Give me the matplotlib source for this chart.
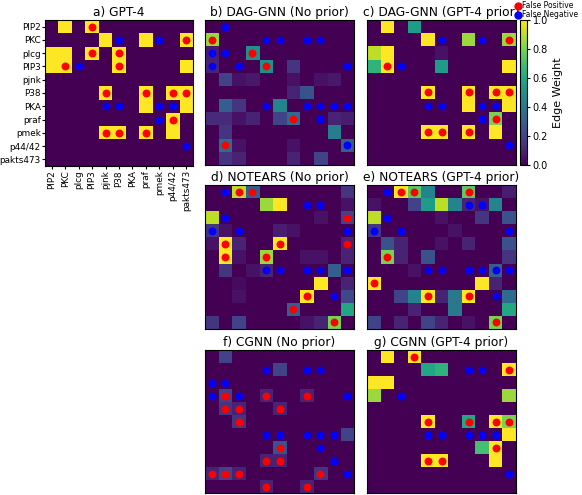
import matplotlib
matplotlib.use("Agg")
import matplotlib.pyplot as plt
from matplotlib.lines import Line2D
import numpy as np

# node names (Sachs protein network)
nodes = ['PIP2', 'PKC', 'plcg', 'PIP3', 'pjnk', 'P38', 'PKA', 'praf', 'pmek', 'p44/42', 'pakts473']

# edge weight matrices
gpt4 = [
    [0, 1, 0, 1, 0, 0, 0, 0, 0, 0, 0],
    [0, 0, 0, 0, 1, 0, 0, 1, 0, 0, 1],
    [1, 1, 0, 1, 0, 1, 0, 0, 0, 0, 0],
    [1, 1, 0, 0, 0, 1, 0, 0, 0, 0, 1],
    [0, 0, 0, 0, 0, 0, 0, 0, 0, 0, 0],
    [0, 0, 0, 0, 1, 0, 0, 1, 0, 1, 1],
    [0, 0, 0, 0, 0, 0, 0, 1, 0, 0, 1],
    [0, 0, 0, 0, 0, 0, 0, 0, 0, 1, 0],
    [0, 0, 0, 0, 1, 1, 0, 1, 0, 1, 0],
    [0, 0, 0, 0, 0, 0, 0, 0, 0, 0, 0],
    [0, 0, 0, 0, 0, 0, 0, 0, 0, 0, 0],
]
daggnn_noprior = [
    [0, 0, 0, 0, 0, 0, 0, 0, 0, 0, 0],
    [0.85, 0, 0, 0, 0, 0, 0, 0, 0, 0, 0],
    [0.08, 0, 0, 0.5, 0, 0, 0, 0, 0, 0, 0],
    [0.1, 0, 0, 0, 0.5, 0, 0.15, 0, 0, 0, 0],
    [0, 0.2, 0.05, 0.07, 0, 0, 0.05, 0, 0.05, 0.07, 0],
    [0, 0, 0, 0, 0, 0, 0.1, 0.25, 0, 0, 0],
    [0, 0.3, 0.15, 0, 0, 0.45, 0, 0, 0, 0, 0],
    [0.12, 0.12, 0.05, 0.1, 0, 0.2, 0.35, 0, 0, 0.1, 0.08],
    [0, 0.15, 0, 0, 0, 0, 0, 0, 0, 0.42, 0],
    [0, 0.35, 0.05, 0, 0, 0, 0.05, 0, 0, 0, 0.3],
    [0, 0.15, 0.1, 0, 0, 0, 0.1, 0, 0.2, 0, 0],
]
daggnn_gpt4 = [
    [0, 1, 0, 0.55, 0, 0, 0, 0, 0, 0, 0],
    [0, 0, 0, 0, 1, 0, 0, 0.85, 0, 0, 0.85],
    [0.9, 1, 0, 0, 0, 0.05, 0, 0, 0, 0, 0],
    [0.65, 1, 0, 0, 0, 0.55, 0, 0, 0, 0, 1],
    [0, 0, 0, 0, 0, 0, 0, 0, 0, 0, 0],
    [0, 0, 0, 0, 1, 0, 0, 1, 0, 1, 1],
    [0, 0, 0, 0, 0, 0, 0, 1, 0, 0, 1],
    [0, 0, 0, 0, 0, 0, 0, 0, 0, 0.8, 0],
    [0, 0, 0, 0, 1, 1, 0, 1, 0, 1, 0],
    [0, 0, 0, 0, 0, 0, 0, 0, 0, 0, 0],
    [0, 0, 0, 0, 0, 0, 0, 0, 0, 0, 0],
]
notears_noprior = [
    [0, 0, 0.9, 0.3, 0, 0, 0, 0, 0, 0, 0.15],
    [0, 0, 0, 0, 0.85, 1, 0, 0, 0, 0, 0.05],
    [0.9, 0, 0, 0, 0, 0, 0, 0, 0.05, 0, 0.2],
    [0.15, 0.05, 0, 0, 0, 0.08, 0.05, 0, 0, 0, 0],
    [0.05, 1, 0.1, 0, 0, 1, 0, 0, 0, 0, 0.1],
    [0, 1, 0.05, 0, 0.85, 0, 0, 0.05, 0.05, 0, 0.1],
    [0, 0.15, 0, 0.05, 0.1, 0, 0, 0, 0, 0.3, 0],
    [0, 0, 0.03, 0, 0, 0, 0, 0, 1, 0, 0.1],
    [0, 0, 0.05, 0, 0, 0, 0, 1, 0, 0, 0.22],
    [0, 0, 0, 0, 0, 0, 0.3, 0, 0, 0, 0.6],
    [0.15, 0, 0.2, 0, 0, 0, 0, 0.05, 0.1, 0.8, 0],
]
notears_gpt4 = [
    [0, 0, 1, 0.75, 0.45, 0, 0, 0.75, 0, 0, 0.08],
    [0.05, 0, 0, 0.2, 0.55, 0.9, 0.45, 0.1, 0.05, 0.45, 0],
    [0.9, 0, 0, 0, 0, 0.05, 0, 0, 0.15, 0, 0.25],
    [0.15, 0, 0, 0, 0, 0, 0.05, 0, 0, 0, 0],
    [0, 0.25, 0.1, 0, 0, 0.05, 0, 0.1, 0, 0, 0.25],
    [0, 0.8, 0.1, 0, 0.25, 0, 0, 0, 0, 0, 0.15],
    [0, 0, 0, 0.05, 0, 0, 0, 0, 0, 0.3, 0],
    [1, 0, 0, 0, 0, 0, 0, 0, 1, 0.1, 0],
    [0, 0, 0.2, 0.45, 1, 0.1, 0.4, 1, 0, 0, 0.35],
    [0, 0, 0, 0.1, 0, 0, 0.4, 0, 0, 0, 0.6],
    [0.2, 0, 0.1, 0, 0.2, 0.1, 0, 0.05, 0, 0.8, 0],
]
cgnn_noprior = [
    [0, 0.2, 0, 0, 0, 0, 0, 0, 0, 0, 0],
    [0, 0, 0, 0, 0, 0.2, 0, 0, 0, 0, 0],
    [0, 0, 0, 0, 0, 0, 0, 0, 0, 0, 0],
    [0, 0.2, 0, 0, 0.1, 0, 0, 0.1, 0, 0, 0],
    [0, 0.15, 0.1, 0, 0, 0.1, 0, 0, 0, 0, 0],
    [0, 0, 0.15, 0, 0, 0, 0, 0, 0, 0, 0],
    [0, 0, 0, 0, 0, 0, 0, 0, 0, 0, 0.2],
    [0, 0, 0, 0, 0, 0.25, 0, 0, 0, 0, 0],
    [0, 0, 0, 0, 0.1, 0.1, 0, 0, 0, 0, 0],
    [0.1, 0.2, 0.1, 0, 0, 0, 0, 0, 0.15, 0, 0],
    [0, 0, 0, 0, 0.1, 0, 0, 0.1, 0, 0, 0],
]
cgnn_gpt4 = [
    [0, 1, 0, 1, 0, 0, 0, 0, 0, 0, 0],
    [0, 0, 0, 0, 0.6, 0.65, 0, 0, 0, 0, 1],
    [1, 1, 0, 0, 0, 0, 0, 0, 0, 0, 0],
    [0.85, 0, 0, 0, 0, 0, 0, 0, 0, 0, 0.85],
    [0, 0, 0, 0, 0, 0, 0, 0, 0, 0, 0],
    [0, 0, 0, 0, 1, 0, 0, 0.6, 0, 1, 0.8],
    [0, 0, 0, 0, 0, 0, 0, 0, 0, 0, 1],
    [0, 0, 0, 0, 0, 0, 0, 0, 0.7, 1, 0],
    [0, 0, 0, 0, 1, 1, 0, 0, 0, 1, 0],
    [0, 0, 0, 0, 0, 0, 0, 0, 0, 0, 0],
    [0, 0, 0, 0, 0, 0, 0, 0, 0, 0, 0],
]

# (row, col) of false positives / false negatives
fp_gpt4 = [(0, 3), (1, 10), (2, 3), (2, 5), (3, 1), (3, 5), (5, 4), (5, 7), (5, 9), (5, 10), (7, 9), (8, 4), (8, 5), (8, 7)]
fn_gpt4 = [(1, 5), (1, 8), (3, 2), (6, 4), (6, 5), (6, 8), (6, 9), (7, 8), (9, 10)]
fp_daggnn_noprior = [(1, 0), (2, 3), (3, 4), (7, 6), (9, 1)]
fn_daggnn_noprior = [(0, 1), (1, 4), (1, 5), (1, 7), (1, 8), (2, 0), (2, 1), (3, 0), (3, 2), (3, 10),
                     (6, 4), (6, 7), (6, 8), (6, 9), (6, 10), (7, 8), (9, 10)]
fp_daggnn_gpt4 = [(1, 10), (3, 1), (5, 4), (5, 7), (5, 9), (5, 10), (7, 9), (8, 4), (8, 5), (8, 7)]
fn_daggnn_gpt4 = [(1, 5), (1, 8), (3, 2), (6, 4), (6, 5), (6, 8), (6, 9), (7, 8), (9, 10)]
fp_notears_noprior = [(0, 2), (0, 3), (2, 10), (4, 1), (4, 5), (4, 10), (5, 1), (5, 4), (8, 7), (9, 6), (10, 9)]
fn_notears_noprior = [(0, 1), (1, 7), (1, 8), (2, 1), (3, 0), (3, 2), (3, 10), (6, 4), (6, 5), (6, 7),
                      (6, 8), (6, 10), (8, 9)]
fp_notears_gpt4 = [(0, 2), (0, 3), (0, 7), (5, 1), (7, 0), (8, 4), (8, 7), (10, 9)]
fn_notears_gpt4 = [(0, 1), (1, 7), (1, 8), (2, 1), (3, 0), (3, 2), (3, 10), (6, 4), (6, 5), (6, 7),
                   (6, 8), (6, 9), (6, 10), (8, 9)]
fp_cgnn_noprior = [(3, 1), (3, 4), (3, 7), (4, 1), (4, 2), (4, 5), (5, 2), (7, 5), (8, 4), (8, 5),
                   (9, 0), (9, 1), (9, 2), (9, 8), (10, 4), (10, 7)]
fn_cgnn_noprior = [(1, 4), (1, 7), (1, 8), (2, 0), (2, 1), (3, 0), (3, 2), (3, 10), (6, 4), (6, 5),
                   (6, 7), (6, 8), (6, 9), (7, 8), (8, 9), (9, 10)]
fp_cgnn_gpt4 = [(0, 3), (1, 10), (5, 4), (5, 7), (5, 9), (5, 10), (7, 9), (8, 4), (8, 5)]
fn_cgnn_gpt4 = [(1, 7), (1, 8), (3, 2), (6, 4), (6, 5), (6, 7), (6, 8), (6, 9), (9, 10)]

W, H = 582, 495


def px_axes(fig, left, top, w, h):
    return fig.add_axes([left / W, 1 - (top + h) / H, w / W, h / H])


panels = [
    ('a) GPT-4', gpt4, fp_gpt4, fn_gpt4, (45, 20, 148, 146)),
    ('b) DAG-GNN (No prior)', daggnn_noprior, fp_daggnn_noprior, fn_daggnn_noprior, (205, 20, 149, 145)),
    ('c) DAG-GNN (GPT-4 prior)', daggnn_gpt4, fp_daggnn_gpt4, fn_daggnn_gpt4, (367, 20, 149, 145)),
    ('d) NOTEARS (No prior)', notears_noprior, fp_notears_noprior, fn_notears_noprior, (205, 185, 149, 144)),
    ('e) NOTEARS (GPT-4 prior)', notears_gpt4, fp_notears_gpt4, fn_notears_gpt4, (367, 185, 149, 144)),
    ('f) CGNN (No prior)', cgnn_noprior, fp_cgnn_noprior, fn_cgnn_noprior, (205, 350, 149, 143)),
    ('g) CGNN (GPT-4 prior)', cgnn_gpt4, fp_cgnn_gpt4, fn_cgnn_gpt4, (367, 350, 149, 143)),
]

fig = plt.figure(figsize=(W / 100, H / 100), dpi=100)

im = None
for i, (title, mat, fp, fn, box) in enumerate(panels):
    ax = px_axes(fig, *box)
    im = ax.imshow(np.array(mat), cmap='viridis', vmin=0, vmax=1, aspect='auto',
                   interpolation='nearest')
    if fp:
        r, c = zip(*fp)
        ax.scatter(c, r, s=22, color='red', zorder=3)
    if fn:
        r, c = zip(*fn)
        ax.scatter(c, r, s=22, color='blue', zorder=3)
    ax.set_xlim(-0.5, 10.5)
    ax.set_ylim(10.5, -0.5)
    ax.set_title(title, fontsize=8.8, pad=3)
    if i == 0:
        ax.set_xticks(range(len(nodes)))
        ax.set_xticklabels(nodes, rotation=90, fontsize=6.4)
        ax.set_yticks(range(len(nodes)))
        ax.set_yticklabels(nodes, fontsize=6.4)
        ax.tick_params(length=2, pad=1)
    else:
        ax.set_xticks([])
        ax.set_yticks([])

cax = px_axes(fig, 520, 20, 7, 145)
cb = fig.colorbar(im, cax=cax)
cb.set_ticks([0, 0.2, 0.4, 0.6, 0.8, 1.0])
cb.ax.tick_params(labelsize=7, length=2, pad=2)
cb.set_label('Edge Weight', fontsize=8)

handles = [
    Line2D([], [], marker='o', linestyle='', color='red', markersize=5, label='False Positive'),
    Line2D([], [], marker='o', linestyle='', color='blue', markersize=5, label='False Negative'),
]
fig.legend(handles=handles, loc='upper left', bbox_to_anchor=(514 / W, 0.997), frameon=False,
           fontsize=5.5, handletextpad=0.1, labelspacing=0.0, borderaxespad=0, handlelength=1,
           borderpad=0)

fig.savefig('out.png', dpi=100)
